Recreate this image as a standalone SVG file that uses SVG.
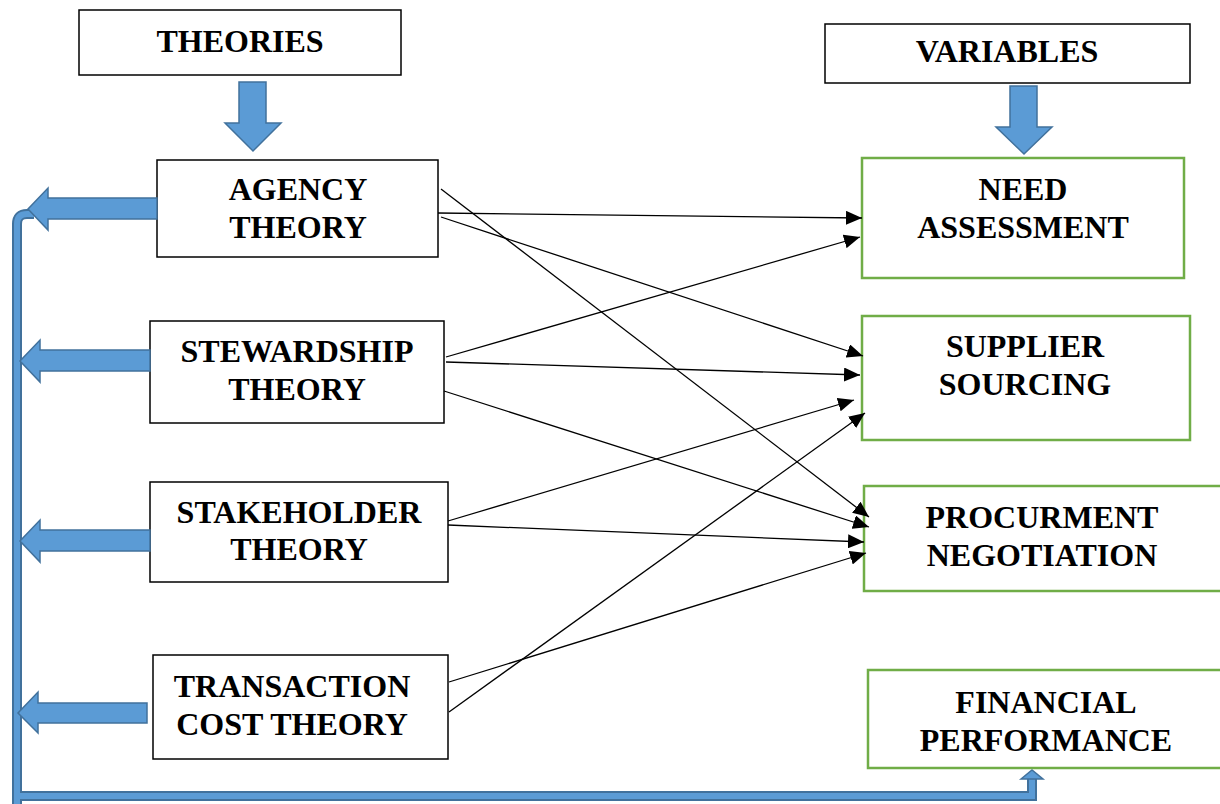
<svg xmlns="http://www.w3.org/2000/svg" width="1220" height="804" viewBox="0 0 1220 804">
<style>
.b{fill:#fff;stroke:#000;stroke-width:1.5}
.g{fill:#fff;stroke:#70AD47;stroke-width:2.5}
.t{font-family:"Liberation Serif","Times New Roman",serif;font-weight:bold;font-size:32px;text-anchor:middle;fill:#000}
.ba{fill:#5B9BD5;stroke:#41719C;stroke-width:1.5;stroke-linejoin:miter}
.c{stroke:#000;stroke-width:1.3;fill:none;marker-end:url(#ah)}
</style>
<defs>
<marker id="ah" markerUnits="userSpaceOnUse" markerWidth="18" markerHeight="14" refX="16" refY="7" orient="auto">
<path d="M0,0 L16,7 L0,14 Z" fill="#000"/>
</marker>
</defs>
<rect width="1220" height="804" fill="#fff"/>

<g id="feedback">
<path d="M34,214 L27,214 Q17,214 17,224 L17,804 M17,796 L1032,796 L1032,777" fill="none" stroke="#41719C" stroke-width="10"/>
<path d="M34,214 L27,214 Q17,214 17,224 L17,804 M17,796 L1032,796 L1032,777" fill="none" stroke="#5B9BD5" stroke-width="6"/>
<polygon class="ba" points="1021,779 1032,770 1043,779"/>
</g>

<g id="theories">
<rect class="b" x="79" y="10" width="322" height="65"/>
<text class="t" x="240" y="52">THEORIES</text>
<polygon class="ba" points="239,82 266,82 266,123 281,123 253,151 225,123 239,123"/>
</g>

<g id="variables">
<rect class="b" x="825" y="24" width="365" height="59"/>
<text class="t" x="1007" y="62">VARIABLES</text>
<polygon class="ba" points="1010,86 1037,86 1037,127 1052,127 1024,154 996,127 1010,127"/>
</g>

<g id="agency">
<rect class="b" x="157" y="160" width="281" height="97"/>
<text class="t" x="298" y="200">AGENCY</text>
<text class="t" x="298" y="238">THEORY</text>
<polygon class="ba" points="157,198 48,198 48,188 28,209 48,230 48,219 157,219"/>
</g>

<g id="stewardship">
<rect class="b" x="150" y="321" width="294" height="102"/>
<text class="t" x="297" y="362">STEWARDSHIP</text>
<text class="t" x="297" y="400">THEORY</text>
<polygon class="ba" points="150,350 40,350 40,340 20,361 40,382 40,371 150,371"/>
</g>

<g id="stakeholder">
<rect class="b" x="150" y="482" width="298" height="100"/>
<text class="t" x="299" y="523">STAKEHOLDER</text>
<text class="t" x="299" y="560">THEORY</text>
<polygon class="ba" points="150,530 40,530 40,520 20,541 40,562 40,551 150,551"/>
</g>

<g id="transaction">
<rect class="b" x="153" y="655" width="295" height="104"/>
<text class="t" x="292" y="697">TRANSACTION</text>
<text class="t" x="292" y="735">COST THEORY</text>
<polygon class="ba" points="147,703 38,703 38,692 18,713 38,733 38,723 147,723"/>
</g>

<g id="need">
<rect class="g" x="862" y="158" width="322" height="120"/>
<text class="t" x="1023" y="200">NEED</text>
<text class="t" x="1023" y="238">ASSESSMENT</text>
</g>

<g id="supplier">
<rect class="g" x="862" y="316" width="328" height="124"/>
<text class="t" x="1025" y="357">SUPPLIER</text>
<text class="t" x="1025" y="395">SOURCING</text>
</g>

<g id="procurement">
<rect class="g" x="864" y="486" width="362" height="105"/>
<text class="t" x="1042" y="528">PROCURMENT</text>
<text class="t" x="1042" y="566">NEGOTIATION</text>
</g>

<g id="financial">
<rect class="g" x="868" y="670" width="358" height="98"/>
<text class="t" x="1046" y="713">FINANCIAL</text>
<text class="t" x="1046" y="751">PERFORMANCE</text>
</g>

<g id="connectors">
<line class="c" x1="438" y1="213" x2="862" y2="218"/>
<line class="c" x1="441" y1="217" x2="863" y2="356"/>
<line class="c" x1="441" y1="189" x2="869" y2="517"/>
<line class="c" x1="446" y1="357" x2="860" y2="237"/>
<line class="c" x1="446" y1="362" x2="860" y2="375"/>
<line class="c" x1="444" y1="391" x2="869" y2="527"/>
<line class="c" x1="448" y1="521" x2="854" y2="400"/>
<line class="c" x1="448" y1="525" x2="864" y2="542"/>
<line class="c" x1="449" y1="682" x2="866" y2="553"/>
<line class="c" x1="449" y1="712" x2="865" y2="413"/>
</g>
</svg>
